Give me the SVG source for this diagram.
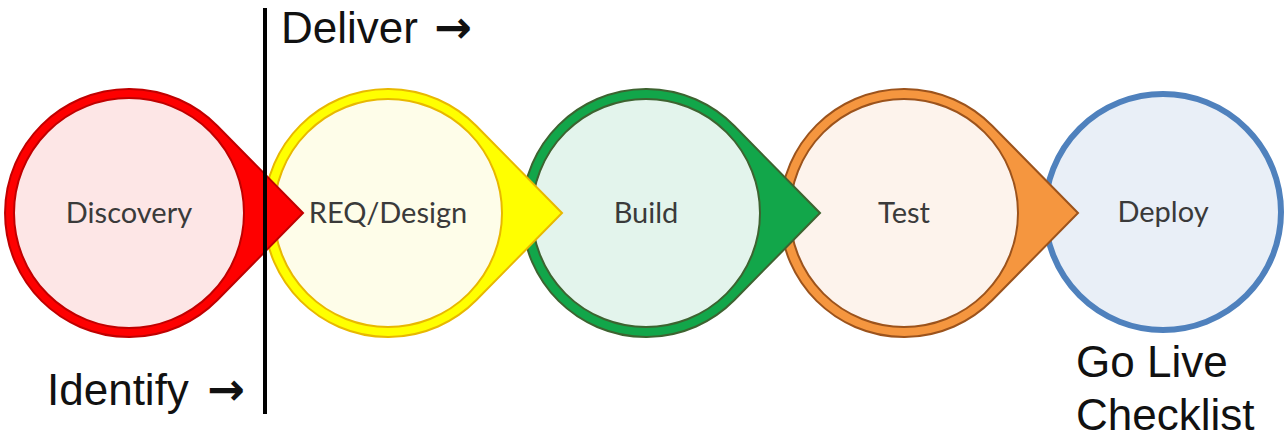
<svg xmlns="http://www.w3.org/2000/svg" width="1284" height="439" viewBox="0 0 1284 439">
<style>
.ring{stroke-width:2;stroke-linejoin:miter}
.core{stroke-width:2}
.lbl{font-family:Lato,"Open Sans",sans-serif;font-size:29px;fill:#3a3a3a;text-anchor:middle}
.big{font-family:"Liberation Sans",Arial,sans-serif;font-size:44px;fill:#111}
.arr{font-family:"DejaVu Sans",sans-serif;font-weight:bold;font-size:45px}
</style>
<defs>
<path id="tear" d="M174,0 L88.4,-87 A124,124 0 1 0 88.4,87 Z"/>
</defs>
<rect width="1284" height="439" fill="#ffffff"/>
<g id="node-deploy" transform="translate(1163,212)">
<circle r="118" fill="#e9eff7" stroke="#4f81bd" stroke-width="6"/>
<text class="lbl" x="0" y="10">Deploy</text>
</g>
<g id="node-test" transform="translate(904,213)">
<use href="#tear" class="ring" fill="#f5963f" stroke="#9c531c"/>
<circle class="core" r="114" fill="#fdf3ec" stroke="#9c531c"/>
<text class="lbl" x="0" y="10">Test</text>
</g>
<g id="node-build" transform="translate(646,213)">
<use href="#tear" class="ring" fill="#12a64a" stroke="#3d6330"/>
<circle class="core" r="114" fill="#e3f4ec" stroke="#3d6330"/>
<text class="lbl" x="0" y="10">Build</text>
</g>
<g id="node-req" transform="translate(388,213)">
<use href="#tear" class="ring" fill="#ffff00" stroke="#e8b800"/>
<circle class="core" r="114" fill="#fefde9" stroke="#e8b800"/>
<text class="lbl" x="0" y="10">REQ/Design</text>
</g>
<g id="node-discovery" transform="translate(129,213)">
<use href="#tear" class="ring" fill="#fe0000" stroke="#c00000"/>
<circle class="core" r="115" fill="#fde6e6" stroke="#c00000"/>
<text class="lbl" x="0" y="10">Discovery</text>
</g>
<g id="connectors">
<line x1="265" y1="8" x2="265" y2="414" stroke="#000" stroke-width="4"/>
</g>
<g id="labels">
<text class="big" x="281" y="43">Deliver <tspan class="arr" x="434">→</tspan></text>
<text class="big" x="47" y="405">Identify <tspan class="arr" x="207">→</tspan></text>
<text class="big" x="1076" y="377">Go Live</text>
<text class="big" x="1076" y="430">Checklist</text>
</g>
</svg>
